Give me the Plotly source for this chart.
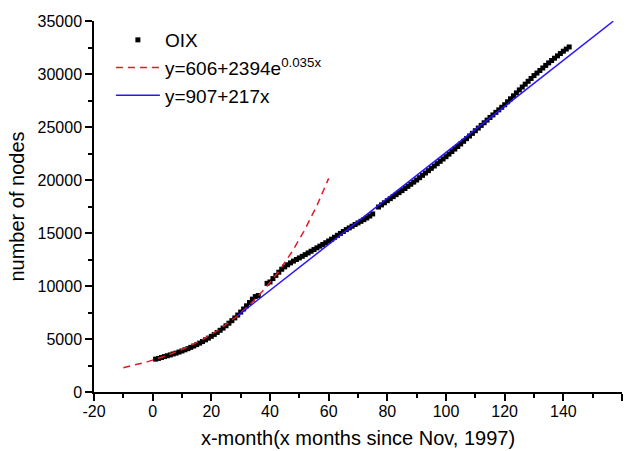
import numpy as np
import plotly.graph_objects as go

# OIX monthly node counts (month index since Nov 1997)
months = [1, 2, 3, 4, 5, 6, 7, 8, 9, 10,
          11, 12, 13, 14, 15, 16, 17, 18, 19, 20,
          21, 22, 23, 24, 25, 26, 27, 28, 29, 30,
          31, 32, 33, 34, 35, 36, 39, 40,
          41, 42, 43, 44, 45, 46, 47, 48, 49, 50,
          51, 52, 53, 54, 55, 56, 57, 58, 59, 60,
          61, 62, 63, 64, 65, 66, 67, 68, 69, 70,
          71, 72, 73, 74, 75, 77, 78, 79, 80,
          81, 82, 83, 84, 85, 86, 87, 88, 89, 90,
          91, 92, 93, 94, 95, 96, 97, 98, 99, 100,
          101, 102, 103, 104, 105, 106, 107, 108, 109, 110,
          111, 112, 113, 114, 115, 116, 117, 118, 119, 120,
          121, 122, 123, 124, 125, 126, 127, 128, 129, 130,
          131, 132, 133, 134, 135, 136, 137, 138, 139, 140,
          141, 142]
nodes = [3100, 3170, 3250, 3340, 3420, 3500, 3590, 3670, 3770, 3870,
         3980, 4090, 4210, 4340, 4470, 4610, 4760, 4920, 5080, 5250,
         5430, 5620, 5820, 6030, 6250, 6490, 6730, 6990, 7260, 7540,
         7830, 8130, 8440, 8760, 9000, 9100, 10250, 10380,
         10700, 11000, 11300, 11580, 11800, 12000, 12180, 12350, 12500, 12650,
         12800, 12960, 13120, 13280, 13440, 13600, 13760, 13920, 14080, 14250,
         14420, 14600, 14780, 14960, 15140, 15320, 15480, 15640, 15800, 15950,
         16100, 16260, 16420, 16600, 16800, 17450, 17650, 17850, 18050,
         18240, 18430, 18620, 18810, 19000, 19200, 19400, 19600, 19800, 20000,
         20220, 20440, 20660, 20880, 21100, 21320, 21540, 21760, 21980, 22200,
         22440, 22680, 22920, 23160, 23400, 23650, 23900, 24150, 24400, 24650,
         24900, 25150, 25400, 25650, 25900, 26140, 26380, 26620, 26860, 27100,
         27380, 27660, 27940, 28220, 28500, 28770, 29040, 29310, 29580, 29850,
         30090, 30330, 30570, 30810, 31050, 31270, 31490, 31710, 31930, 32150,
         32350, 32550]

# Exponential fit y = a + b*exp(c*x)
exp_a, exp_b, exp_c = 606, 2394, 0.035
exp_range = (-10, 60)
# Linear fit y = p + q*x
lin_p, lin_q = 907, 217
lin_range = (29, 157)

# Axis ticks
x_ticks = [-20, 0, 20, 40, 60, 80, 100, 120, 140, 160]
x_tick_labels = ["-20", "0", "20", "40", "60", "80", "100", "120", "140", "160"]
y_ticks = [0, 5000, 10000, 15000, 20000, 25000, 30000, 35000]
y_tick_labels = ["0", "5000", "10000", "15000", "20000", "25000", "30000", "35000"]

x_exp = np.linspace(exp_range[0], exp_range[1], 200)
y_exp = exp_a + exp_b * np.exp(exp_c * x_exp)
x_lin = np.array(lin_range, dtype=float)
y_lin = lin_p + lin_q * x_lin

FONT = "Liberation Sans, Arial, sans-serif"

fig = go.Figure()
fig.add_trace(go.Scatter(
    x=months, y=nodes, mode="markers", name="OIX",
    marker=dict(symbol="square", size=5, color="black"),
))
fig.add_trace(go.Scatter(
    x=x_exp, y=y_exp, mode="lines",
    name="y=606+2394e<sup>0.035x</sup>",
    line=dict(color="#dd1c28", width=1.5, dash="7px,5px"),
))
fig.add_trace(go.Scatter(
    x=x_lin, y=y_lin, mode="lines", name="y=907+217x",
    line=dict(color="#2a14ff", width=1.5),
))

axis_common = dict(
    showline=True, linecolor="black", linewidth=1.5,
    ticks="outside", ticklen=7, tickwidth=1.5, tickcolor="black",
    showgrid=False, zeroline=False, mirror=False, automargin=False,
    tickmode="array",
    tickfont=dict(family=FONT, size=16, color="black"),
)

fig.update_layout(
    width=634, height=451,
    margin=dict(l=94, r=12, t=21, b=59),
    paper_bgcolor="white", plot_bgcolor="white",
    font=dict(family=FONT, color="black"),
    showlegend=True,
    legend=dict(
        x=0.032, y=1.0, xanchor="left", yanchor="top",
        bgcolor="rgba(0,0,0,0)", borderwidth=0,
        font=dict(family=FONT, size=19, color="black"),
        tracegroupgap=0, itemwidth=44,
    ),
    xaxis=dict(
        range=[-20, 160], tickvals=x_ticks, ticktext=x_tick_labels,
        ticklabelstandoff=-3,
        minor=dict(dtick=10, tick0=0, ticks="outside", ticklen=4, tickwidth=1.5, tickcolor="black"),
        title=dict(text="x-month(x months since Nov, 1997)",
                   font=dict(family=FONT, size=20, color="black"), standoff=12),
        **axis_common,
    ),
    yaxis=dict(
        range=[0, 35000], tickvals=y_ticks, ticktext=y_tick_labels,
        minor=dict(dtick=2500, tick0=0, ticks="outside", ticklen=4, tickwidth=1.5, tickcolor="black"),
        title=dict(text="number of nodes",
                   font=dict(family=FONT, size=20, color="black"), standoff=8),
        **axis_common,
    ),
)

fig.write_html("out.html")
